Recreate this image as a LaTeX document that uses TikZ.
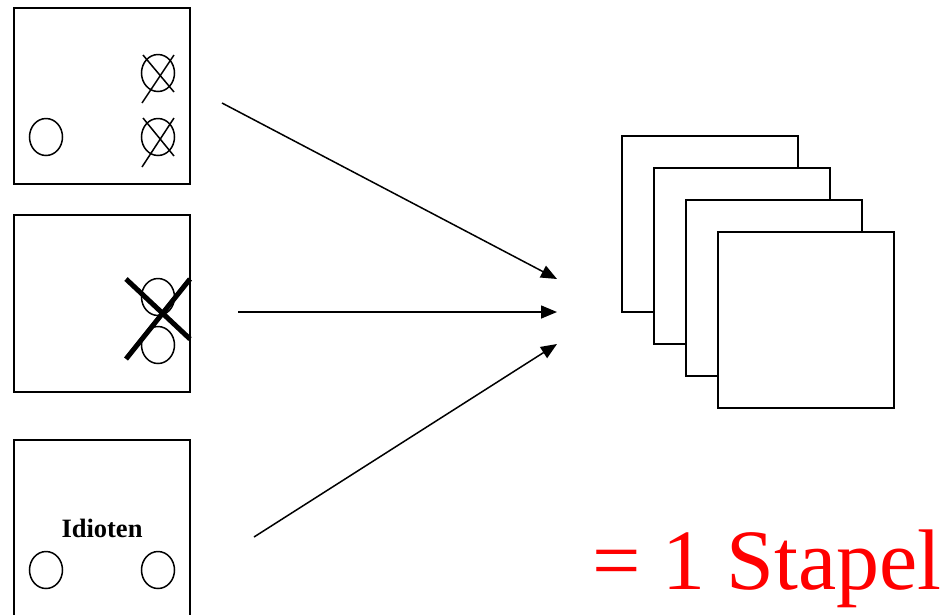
\documentclass[tikz,border=0pt]{standalone}
\usepackage{fontspec}
\setmainfont{Liberation Serif}
\usetikzlibrary{arrows.meta}
\begin{document}
\begin{tikzpicture}[x=1pt,y=-1pt,
		karte/.style={line width=2pt},
		blatt/.style={line width=2pt,fill=white},
		kreis/.style={line width=1.5pt},
		kreuz/.style={line width=1.5pt},
		dickkreuz/.style={line width=5pt},
		pfeil/.style={line width=1.5pt,-{Triangle[length=16pt,width=13pt]}}]
		\useasboundingbox (0,0) rectangle (944,614);
		% obere Karte
		\draw[karte] (14,8) rectangle (190,184);
		\draw[kreis] (46,137) ellipse [x radius=16.5, y radius=18.5];
		\draw[kreis] (158,73) ellipse [x radius=16.5, y radius=18.5];
		\draw[kreis] (158,137) ellipse [x radius=16.5, y radius=18.5];
		\draw[kreuz] (143,55) -- (174,92);
		\draw[kreuz] (142,103) -- (174,55);
		\draw[kreuz] (143,118) -- (174,156);
		\draw[kreuz] (142,167) -- (174,118);
		% mittlere Karte
		\draw[karte] (14,215) rectangle (190,392);
		\draw[kreis] (158,297) ellipse [x radius=16.5, y radius=18.5];
		\draw[kreis] (158,345) ellipse [x radius=16.5, y radius=18.5];
		\draw[dickkreuz] (126,279) -- (190,339);
		\draw[dickkreuz] (126,359) -- (190,279);
		% untere Karte
		\draw[karte] (14,440) rectangle (190,630);
		\node (idioten) at (102,537) [anchor=base,inner sep=0pt,font=\fontsize{26.5}{30}\selectfont\bfseries] {Idioten};
		\draw[kreis] (46,570) ellipse [x radius=16.5, y radius=18.5];
		\draw[kreis] (158,570) ellipse [x radius=16.5, y radius=18.5];
		% Stapel
		\draw[blatt] (622,136) rectangle (798,312);
		\draw[blatt] (654,168) rectangle (830,344);
		\draw[blatt] (686,200) rectangle (862,376);
		\draw[blatt] (718,232) rectangle (894,408);
		% Pfeile
		\coordinate (start1) at (222,103);
		\coordinate (start2) at (238,312);
		\coordinate (start3) at (254,537);
		\coordinate (ziel1) at (557,279);
		\coordinate (ziel2) at (557,312);
		\coordinate (ziel3) at (557,344);
		\draw[pfeil] (start1) -- (ziel1);
		\draw[pfeil] (start2) -- (ziel2);
		\draw[pfeil] (start3) -- (ziel3);
		\node (stapel) at (592,589) [anchor=base west,inner sep=0pt,text=red,font=\fontsize{86}{100}\selectfont] {= 1 Stapel};
	\end{tikzpicture}
\end{document}
